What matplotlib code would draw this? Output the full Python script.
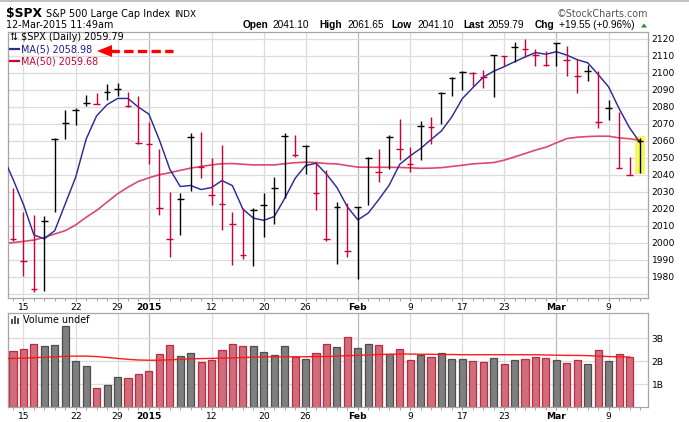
import numpy as np
import pandas as pd
import matplotlib
matplotlib.use("Agg")
import matplotlib.pyplot as plt
from matplotlib.patches import Rectangle, Polygon
from matplotlib.lines import Line2D

W, H = 689, 422

# trading days shown on the chart (Dec 12 2014 .. Mar 12 2015)
holidays = ["2014-12-25", "2015-01-01", "2015-01-19", "2015-02-16"]
days = pd.bdate_range("2014-12-12", "2015-03-12", freq="C", holidays=holidays)

high = [2032.2, 2018.4, 2016.5, 2015.9, 2061.5, 2078.3, 2079.1, 2087.2, 2088.2, 2093.7,
        2094.0, 2088.6, 2086.6, 2071.0, 2055.2, 2030.2, 2029.6, 2064.6, 2065.2, 2049.9,
        2057.5, 2018.0, 2020.4, 2020.4, 2029.2, 2038.7, 2064.6, 2063.4, 2057.7, 2047.9,
        2043.0, 2024.3, 2023.3, 2021.0, 2050.5, 2055.2, 2063.6, 2072.8, 2056.7, 2071.5,
        2073.8, 2088.8, 2097.6, 2100.9, 2100.4, 2101.9, 2110.8, 2110.2, 2118.0, 2120.0,
        2114.1, 2112.7, 2117.6, 2115.7, 2108.2, 2104.5, 2100.9, 2083.9, 2076.8, 2050.5,
        2061.65]
low = [2001.3, 1980.5, 1970.9, 1971.7, 2018.0, 2061.1, 2069.5, 2080.3, 2081.9, 2084.2,
       2086.2, 2080.0, 2058.0, 2046.3, 2016.5, 1991.5, 2004.7, 2030.8, 2038.1, 2022.4,
       2007.6, 1987.0, 1990.5, 1986.6, 2003.7, 2011.2, 2026.3, 2050.8, 2040.6, 2019.4,
       2001.3, 1987.6, 1991.9, 1978.5, 2022.4, 2036.1, 2043.4, 2049.0, 2042.0, 2048.9,
       2058.3, 2070.1, 2086.6, 2090.1, 2092.5, 2091.1, 2085.6, 2103.9, 2106.2, 2109.4,
       2103.9, 2103.9, 2104.3, 2098.4, 2088.0, 2095.4, 2067.9, 2072.5, 2044.2, 2040.0,
       2041.1]
close = [2002.3, 1989.6, 1972.7, 2012.9, 2061.2, 2070.7, 2078.5, 2082.2, 2081.9, 2088.8,
         2090.6, 2080.4, 2058.9, 2058.2, 2020.6, 2002.6, 2025.9, 2062.1, 2044.8, 2028.3,
         2023.0, 2011.3, 1992.7, 2019.4, 2022.6, 2032.1, 2063.2, 2051.8, 2057.1, 2029.6,
         2002.2, 2021.3, 1995.0, 2020.9, 2050.0, 2041.5, 2062.5, 2055.5, 2046.7, 2068.6,
         2068.5, 2088.5, 2097.0, 2100.3, 2099.7, 2097.5, 2110.3, 2109.7, 2115.5, 2113.9,
         2110.7, 2104.5, 2117.4, 2107.8, 2098.5, 2101.0, 2071.3, 2079.4, 2044.2, 2040.2,
         2059.79]
prev_close = 2035.3  # Dec 11, sets colour of the first bar

# moving averages, first value belongs to the day before the first bar
ma5 = [2051.4, 2037.5, 2022.6, 2004.7, 2002.4, 2007.3, 2023.0, 2038.7, 2061.1, 2074.8,
       2081.3, 2085.0, 2085.0, 2079.9, 2075.8, 2060.7, 2043.5, 2033.2, 2033.8, 2031.4,
       2032.6, 2036.7, 2033.7, 2019.9, 2014.6, 2013.3, 2015.5, 2026.2, 2038.0, 2045.5,
       2046.9, 2040.5, 2032.6, 2021.2, 2013.6, 2017.6, 2025.5, 2034.0, 2046.2, 2051.2,
       2055.5, 2060.8, 2065.9, 2074.2, 2084.9, 2091.3, 2097.5, 2101.0, 2103.7, 2106.6,
       2109.4, 2112.0, 2111.0, 2112.5, 2110.5, 2107.8, 2106.0, 2099.1, 2091.8, 2079.1,
       2067.8, 2059.0]
ma50 = [1999.6, 2000.2, 2000.9, 2001.7, 2003.3, 2005.3, 2007.2, 2010.6, 2015.1, 2019.1,
        2024.0, 2028.9, 2032.8, 2036.2, 2038.3, 2040.1, 2041.3, 2042.7, 2044.0, 2045.0,
        2045.9, 2046.6, 2046.7, 2046.3, 2045.9, 2045.9, 2045.9, 2046.6, 2047.2, 2047.5,
        2047.3, 2046.7, 2046.5, 2045.5, 2044.6, 2044.5, 2044.5, 2044.5, 2044.4, 2044.2,
        2043.9, 2044.0, 2044.3, 2045.0, 2045.7, 2046.5, 2046.9, 2047.3, 2048.7, 2050.6,
        2052.6, 2054.6, 2056.3, 2058.9, 2061.4, 2062.2, 2062.6, 2062.8, 2062.8, 2061.8,
        2061.3, 2060.4]

# volume in billions (no bar yet for Mar 12)
volume = [2.46, 2.54, 2.76, 2.68, 2.72, 3.53, 2.01, 1.79, 0.81, 0.96,
          1.31, 1.26, 1.44, 1.57, 2.32, 2.72, 2.24, 2.37, 1.97, 2.07,
          2.50, 2.76, 2.68, 2.68, 2.41, 2.28, 2.68, 2.16, 2.09, 2.37,
          2.76, 2.63, 3.07, 2.59, 2.76, 2.71, 2.32, 2.53, 2.06, 2.26,
          2.18, 2.35, 2.09, 2.09, 2.00, 1.96, 2.13, 1.87, 2.04, 2.09,
          2.19, 2.13, 2.04, 1.91, 2.04, 1.87, 2.49, 2.00, 2.31, 2.18]
vol_ma = [2.11, 2.12, 2.13, 2.15, 2.17, 2.19, 2.21, 2.22, 2.22, 2.20, 2.16,
          2.12, 2.08, 2.05, 2.04, 2.04, 2.06, 2.08, 2.10, 2.11, 2.12,
          2.13, 2.14, 2.16, 2.17, 2.19, 2.19, 2.19, 2.19, 2.19, 2.20,
          2.20, 2.22, 2.24, 2.25, 2.27, 2.29, 2.30, 2.31, 2.31, 2.30,
          2.30, 2.29, 2.29, 2.28, 2.28, 2.28, 2.28, 2.28, 2.28, 2.28,
          2.28, 2.27, 2.26, 2.25, 2.25, 2.24, 2.22, 2.20, 2.19, 2.18]

tick_days = ["2014-12-15", "2014-12-22", "2014-12-29", "2015-01-02", "2015-01-12",
             "2015-01-20", "2015-01-26", "2015-02-02", "2015-02-09", "2015-02-17",
             "2015-02-23", "2015-03-02", "2015-03-09"]
tick_text = ["15", "22", "29", "2015", "12", "20", "26", "Feb", "9", "17", "23", "Mar", "9"]
month_ticks = ["2015", "Feb", "Mar"]
price_ticks = list(range(1970, 2121, 10))
vol_ticks = [1, 2, 3]

RED = "#cc0033"
NAVY = "#2b2b9c"
GRID = "#dcdcdc"
GRID_DARK = "#b9b9b9"
BORDER = "#a6a6a6"


def fx(x):
    return x / W


def fy(y):
    return 1 - y / H


idx = np.arange(len(days))
close_arr = np.array(close)
up = close_arr >= np.r_[prev_close, close_arr[:-1]]
tick_idx = [days.get_loc(pd.Timestamp(d)) for d in tick_days]
ma_idx = np.arange(-1, len(days))

fig = plt.figure(figsize=(W / 100, H / 100), dpi=100)
fig.patch.set_facecolor("white")
plt.rcParams["font.family"] = ["DejaVu Sans"]

ax = fig.add_axes([fx(8), fy(298), fx(648) - fx(8), fy(32) - fy(298)])
axv = fig.add_axes([fx(8), fy(407), fx(648) - fx(8), fy(313) - fy(407)])


def style_axes(a):
    for s in a.spines.values():
        s.set_color(BORDER)
        s.set_linewidth(0.9)
    a.set_xlim(-0.48, 60.77)
    a.yaxis.tick_right()
    a.tick_params(axis="y", length=0, pad=2.5, labelsize=6.6, colors="black")
    a.set_xticks(tick_idx)
    a.set_xticklabels(tick_text)
    a.set_xticks(idx, minor=True)
    a.tick_params(axis="x", which="both", direction="out", length=2.5,
                  color="#999999", pad=1.2, labelsize=6.6)
    for lab in a.get_xticklabels():
        if lab.get_text() in month_ticks:
            lab.set_fontweight("bold")
    for t, txt in zip(tick_idx, tick_text):
        a.axvline(t, color=GRID_DARK if txt in month_ticks else GRID, lw=0.9, zorder=0)


# price panel
style_axes(ax)
ax.set_ylim(1967.6, 2124.1)
ax.set_yticks(price_ticks)
ax.set_yticklabels(["" if p == 1970 else str(p) for p in price_ticks])
for p in price_ticks:
    ax.axhline(p, color=GRID, lw=0.9, zorder=0)

ax.add_patch(Rectangle((idx[-1] - 0.47, low[-1] - 0.3), 0.94, high[-1] - low[-1] + 1.8,
                       facecolor="#f7f760", edgecolor="none", zorder=1))

ax.plot(ma_idx, ma50, color="#d42a52", lw=1.2, alpha=0.85, zorder=2)
ax.plot(ma_idx, ma5, color=NAVY, lw=1.05, zorder=3)

bar_col = ["black" if u else RED for u in up]
ax.vlines(idx, low, high, colors=bar_col, lw=1.0, zorder=4)
ax.hlines(close, idx - 0.32, idx + 0.32, colors=bar_col, lw=1.0, zorder=4)

# volume panel
style_axes(axv)
axv.set_ylim(0, 4.1)
axv.set_yticks(vol_ticks)
axv.set_yticklabels([f"{v}B" for v in vol_ticks])
for v in vol_ticks:
    axv.axhline(v, color=GRID, lw=0.9, zorder=0)
vidx = idx[:len(volume)]
fill = ["#7f7f7f" if u else "#cf6d7b" for u in up[:len(volume)]]
edge = ["#4d4d4d" if u else "#c2283f" for u in up[:len(volume)]]
axv.bar(vidx, volume, width=0.68, color=fill, edgecolor=edge, lw=0.9, zorder=2)
axv.plot(np.arange(-1, len(volume)), vol_ma, color="#ff1a1a", lw=1.0, zorder=3)

# header
fig.add_artist(Line2D([0, 1], [fy(0.6)] * 2, color="#b5b5b5", lw=1.2))
fig.text(fx(6), fy(17.3), "$SPX", fontsize=8.9, fontweight="bold", va="baseline")
fig.text(fx(46), fy(17), "S&P 500 Large Cap Index", fontsize=7.0, va="baseline")
fig.text(fx(174), fy(17), "INDX", fontsize=6.4, va="baseline")
fig.text(fx(648), fy(16.7), "\u00a9StockCharts.com", fontsize=6.9, color="#555555",
         ha="right", va="baseline")
fig.text(fx(6), fy(28.3), "12-Mar-2015 11:49am", fontsize=6.9, va="baseline")

runs = [("Open", True, 243), ("2041.10", False, 272), ("High", True, 319),
        ("2061.65", False, 347), ("Low", True, 391), ("2041.10", False, 417),
        ("Last", True, 463), ("2059.79", False, 487), ("Chg", True, 535),
        ("+19.55 (+0.96%)", False, 559)]
for txt, bold, x in runs:
    fig.text(fx(x), fy(28.3), txt, fontsize=7.3, family=["Liberation Sans"],
             fontweight="bold" if bold else "normal", va="baseline")
fig.add_artist(Polygon([[fx(641), fy(27.5)], [fx(647), fy(27.5)], [fx(644), fy(23.5)]],
                       closed=True, facecolor="#2e8b2e", edgecolor="none",
                       transform=fig.transFigure))

# legend inside price panel
fig.text(fx(10), fy(40.5), "\u21c5 $SPX (Daily) 2059.79", fontsize=6.9, va="baseline")
fig.add_artist(Line2D([fx(10), fx(19)], [fy(49.3)] * 2, color=NAVY, lw=1.6))
fig.text(fx(21), fy(52.5), "MA(5) 2058.98", fontsize=6.9, color="#1c1c8a", va="baseline")
fig.add_artist(Line2D([fx(10), fx(19)], [fy(60.6)] * 2, color=RED, lw=1.6))
fig.text(fx(21), fy(64), "MA(50) 2059.68", fontsize=6.9, color=RED, va="baseline")

# red dashed arrow
fig.add_artist(Line2D([fx(110), fx(173)], [fy(51)] * 2, color="#ff0000", lw=2.4,
                      linestyle=(0, (2.8, 1.3)), solid_capstyle="butt"))
fig.add_artist(Polygon([[fx(97), fy(51)], [fx(112), fy(45)], [fx(112), fy(57)]],
                       closed=True, facecolor="#ff0000", edgecolor="none",
                       transform=fig.transFigure))

# volume label with small bar icon
for bx, bh in [(11, 5), (14, 8), (17, 6)]:
    fig.add_artist(Rectangle((fx(bx), fy(324)), fx(2), fy(324 - bh) - fy(324),
                             facecolor="#555555", edgecolor="none",
                             transform=fig.transFigure))
fig.text(fx(23), fy(323.3), "Volume undef", fontsize=6.9, va="baseline")

fig.savefig("out.png", dpi=100, facecolor="white")
